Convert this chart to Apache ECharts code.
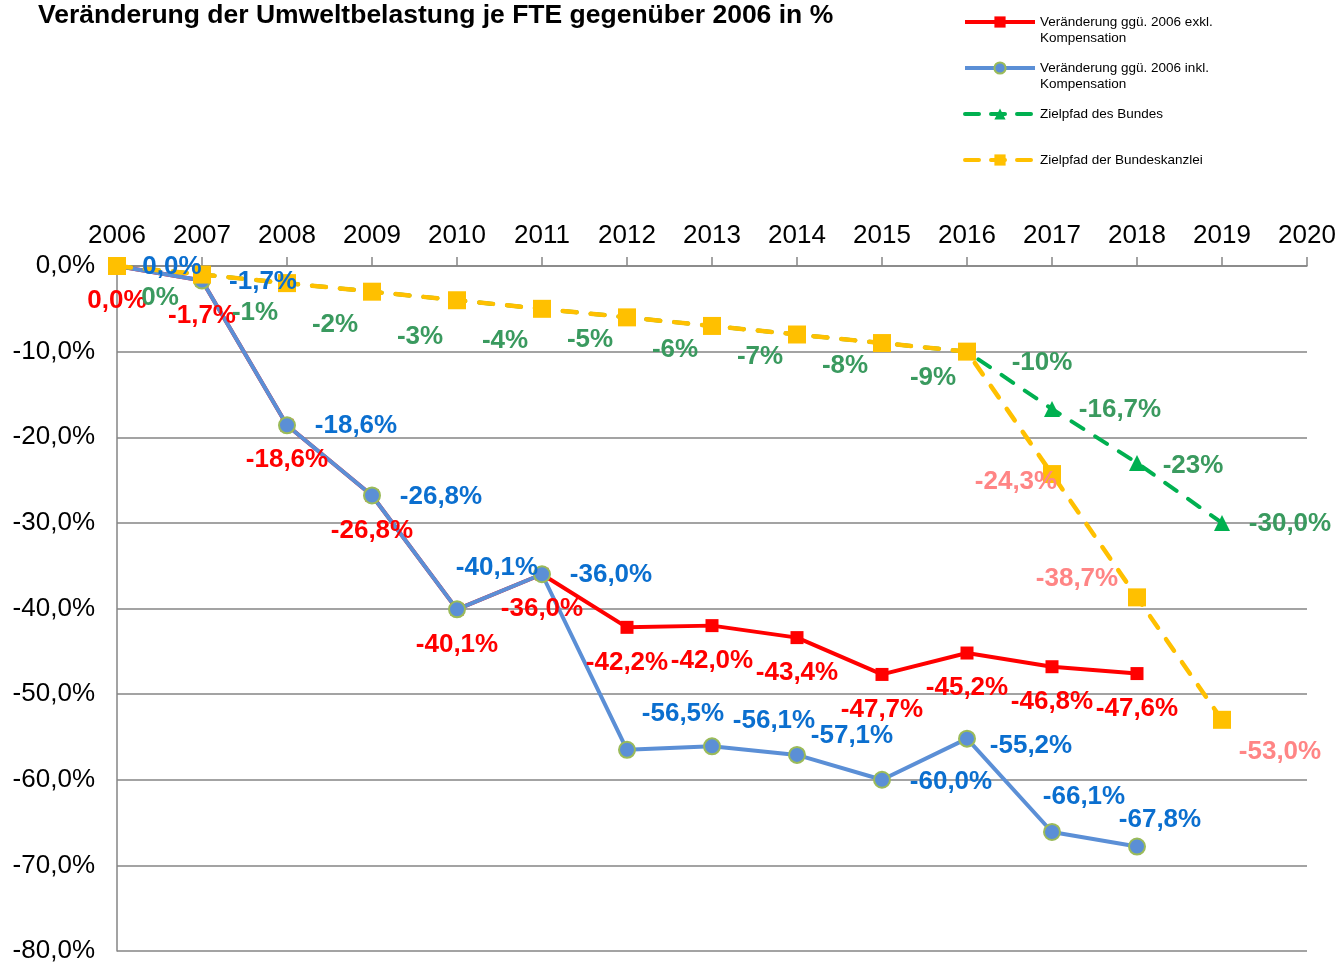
<!DOCTYPE html>
<html lang="de">
<head>
    <meta charset="UTF-8">
    <title>Veränderung der Umweltbelastung je FTE</title>
    <script src="https://cdn.jsdelivr.net/npm/echarts@6.0.0/dist/echarts.min.js"></script>
    <style>
        html, body { margin: 0; padding: 0; background: #fff; }
        #chart { width: 1341px; height: 964px; }
    </style>
</head>
<body>
    <div id="chart"></div>
    <script type="text/javascript">
    // data
    const years = ['2006', '2007', '2008', '2009', '2010', '2011', '2012', '2013', '2014', '2015', '2016', '2017', '2018', '2019', '2020'];
    const exklValues = [0, -1.7, -18.6, -26.8, -40.1, -36.0, -42.2, -42.0, -43.4, -47.7, -45.2, -46.8, -47.6];
    const inklValues = [0, -1.7, -18.6, -26.8, -40.1, -36.0, -56.5, -56.1, -57.1, -60.0, -55.2, -66.1, -67.8];
    const bundValues = [0, -1, -2, -3, -4, -5, -6, -7, -8, -9, -10, -16.7, -23, -30];
    const bundLabels = ['0%', '-1%', '-2%', '-3%', '-4%', '-5%', '-6%', '-7%', '-8%', '-9%', '-10%', '-16,7%', '-23%', '-30,0%'];
    const kanzleiValues = [0, -1, -2, -3, -4, -5, -6, -7, -8, -9, -10, -24.3, -38.7, -53.0];
    const seriesNames = [
        'Veränderung ggü. 2006 exkl.\nKompensation',
        'Veränderung ggü. 2006 inkl.\nKompensation',
        'Zielpfad des Bundes',
        'Zielpfad der Bundeskanzlei'
    ];

    // label placement (offset from the point centre), layout only
    const inklOffsets = [[55, 1], [61, 1], [69, 1], [69, 1], [40, -42], [69, 1], [56, -36], [62, -26], [55, -19], [69, 2], [64, 7], [32, -35], [23, -27]];
    const bundOffsets = [[43, 32], [53, 38], [48, 42], [48, 45], [48, 41], [48, 31], [48, 32], [48, 31], [48, 31], [51, 35], [75, 11], [68, 1], [56, 3], [68, 1]];
    const kanzleiOffsets = { 11: [-36, 8], 12: [-60, -19], 13: [58, 32] };

    const FONT = "'Liberation Sans', Arial, sans-serif";
    const pct1 = v => v.toFixed(1).replace('.', ',') + '%';

    function labelStyle(color, offset) {
        return {
            show: true, position: 'inside', offset: offset,
            color: color, fontFamily: FONT, fontWeight: 'bold', fontSize: 26
        };
    }

    var chart = echarts.init(document.getElementById('chart'));

    // one legend per entry so each row sits where it does in the original
    function legendItem(name, top, color, dashed) {
        return {
            left: 963, top: top, padding: 0, itemWidth: 70, itemHeight: 14,
            orient: 'vertical',
            // two-line names get an empty first line so the icon lines up with the first text line
            formatter: n => n.indexOf('\n') >= 0 ? '\n' + n : n,
            textStyle: { fontFamily: FONT, fontSize: 13.5, color: '#000', lineHeight: 16 },
            data: [{
                name: name,
                lineStyle: { width: 4, color: color, type: dashed ? [14, 12] : 'solid' }
            }]
        };
    }

    var option = {
        animation: false,
        title: {
            text: 'Veränderung der Umweltbelastung je FTE gegenüber 2006 in %',
            left: 38, top: 2, padding: 0,
            textStyle: { fontFamily: FONT, fontWeight: 'bold', fontSize: 26.5, color: '#000' }
        },
        legend: [
            legendItem(seriesNames[0], -2, '#ff0000', false),
            legendItem(seriesNames[1], 44, '#5b8fd6', false),
            legendItem(seriesNames[2], 106, '#00b050', true),
            legendItem(seriesNames[3], 152, '#ffc000', true)
        ],
        grid: { left: 117, right: 34, top: 266, bottom: 11, containLabel: false },
        xAxis: {
            type: 'category', position: 'top', boundaryGap: false, data: years,
            axisLine: { lineStyle: { color: '#858585', width: 1.5 } },
            axisTick: { show: true, inside: false, length: 9, lineStyle: { color: '#858585', width: 1.5 } },
            axisLabel: { color: '#000', fontFamily: FONT, fontSize: 26, margin: 17 },
            splitLine: { show: false }
        },
        yAxis: {
            type: 'value', min: -80, max: 0, interval: 10,
            axisLine: { show: true, lineStyle: { color: '#858585', width: 1.5 } },
            axisTick: { show: false },
            axisLabel: { color: '#000', fontFamily: FONT, fontSize: 26, margin: 22, formatter: pct1 },
            splitLine: { lineStyle: { color: '#858585', width: 1.5 } }
        },
        series: [
            {
                name: seriesNames[0], type: 'line',
                symbol: 'rect', symbolSize: 13,
                itemStyle: { color: '#ff0000' },
                lineStyle: { color: '#ff0000', width: 4 },
                data: exklValues.map(v => ({ value: v, label: labelStyle('#ff0000', [0, 35]) })),
                label: { formatter: p => pct1(p.value) }
            },
            {
                name: seriesNames[1], type: 'line',
                symbol: 'circle', symbolSize: 16,
                itemStyle: { color: '#5b8fd6', borderColor: '#9bbb59', borderWidth: 2 },
                lineStyle: { color: '#5b8fd6', width: 4 },
                data: inklValues.map((v, i) => ({ value: v, label: labelStyle('#0b6fcf', inklOffsets[i]) })),
                label: { formatter: p => pct1(p.value) }
            },
            {
                name: seriesNames[2], type: 'line',
                symbol: 'triangle', symbolSize: 16,
                itemStyle: { color: '#00b050' },
                lineStyle: { color: '#00b050', width: 4, type: [14, 14], cap: 'round' },
                data: bundValues.map((v, i) => ({
                    value: v,
                    itemStyle: i < 11 ? { color: 'rgba(0,0,0,0)' } : undefined,
                    label: labelStyle('#3a9a5f', bundOffsets[i])
                })),
                label: { formatter: p => bundLabels[p.dataIndex] }
            },
            {
                name: seriesNames[3], type: 'line',
                symbol: 'rect', symbolSize: 18,
                itemStyle: { color: '#ffc000' },
                lineStyle: { color: '#ffc000', width: 4.5, type: [14, 14], cap: 'round' },
                data: kanzleiValues.map((v, i) => ({
                    value: v,
                    label: kanzleiOffsets[i] ? labelStyle('#ff8585', kanzleiOffsets[i]) : { show: false }
                })),
                label: { formatter: p => pct1(p.value) }
            }
        ]
    };
    chart.setOption(option);
    </script>
</body>
</html>
